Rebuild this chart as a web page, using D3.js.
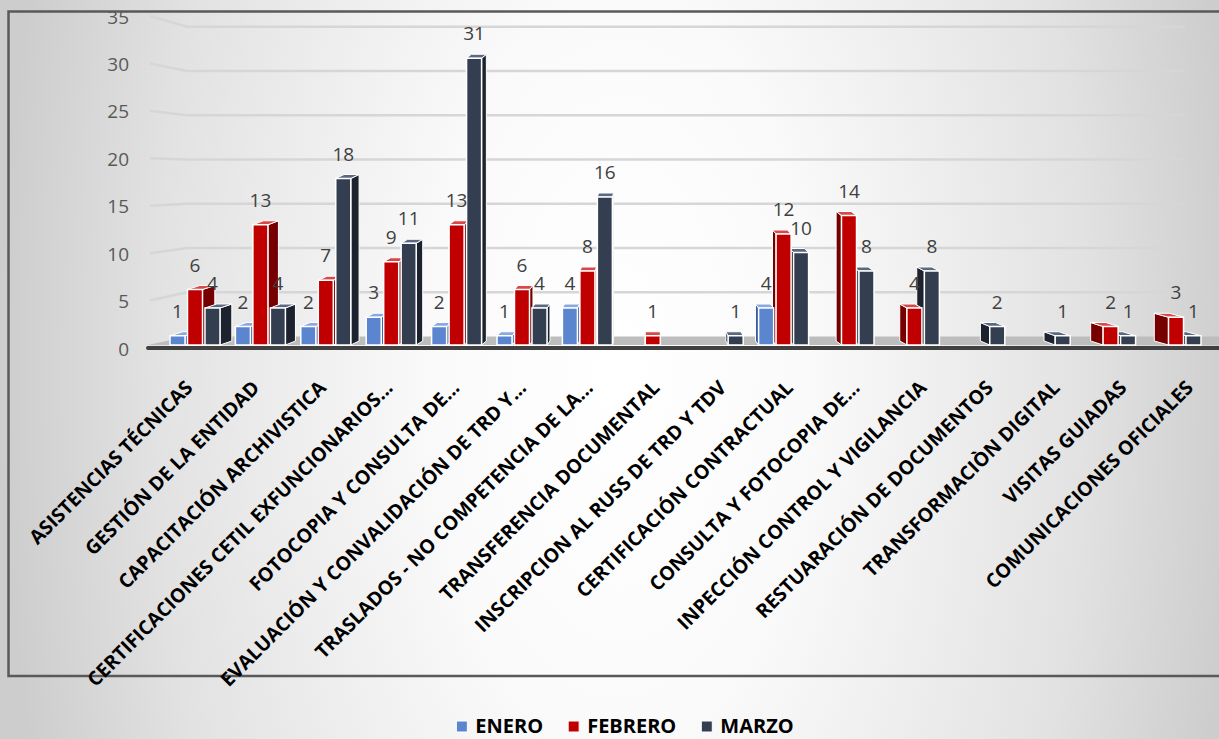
<!DOCTYPE html>
<meta charset="utf-8">
<script src="https://d3js.org/d3.v7.min.js"></script>
<style>
  body { margin: 0; }
</style>
<div id="my_dataviz"></div>
<script>

// Datos del gráfico
var categorias = [
  "ASISTENCIAS TÉCNICAS",
  "GESTIÓN DE LA ENTIDAD",
  "CAPACITACIÓN ARCHIVISTICA",
  "CERTIFICACIONES CETIL EXFUNCIONARIOS...",
  "FOTOCOPIA Y CONSULTA DE...",
  "EVALUACIÓN Y CONVALIDACIÓN DE TRD Y...",
  "TRASLADOS - NO COMPETENCIA DE LA...",
  "TRANSFERENCIA DOCUMENTAL",
  "INSCRIPCION AL RUSS DE TRD Y TDV",
  "CERTIFICACIÓN CONTRACTUAL",
  "CONSULTA Y FOTOCOPIA DE...",
  "INPECCIÓN CONTROL Y VIGILANCIA",
  "RESTUARACIÓN DE DOCUMENTOS",
  "TRANSFORMACIÒN DIGITAL",
  "VISITAS GUIADAS",
  "COMUNICACIONES OFICIALES"
];
var series = ["ENERO", "FEBRERO", "MARZO"];
var enero   = [1, 2, 2, 3, 2, 1, 4, 0, 0, 4, 0, 0, 0, 0, 0, 0];
var febrero = [6, 13, 7, 9, 13, 6, 8, 1, 0, 12, 14, 4, 0, 0, 2, 3];
var marzo   = [4, 4, 18, 11, 31, 4, 16, 0, 1, 10, 8, 8, 2, 1, 1, 1];
var yTicks = [0, 5, 10, 15, 20, 25, 30, 35];

var valores = [enero, febrero, marzo];
var colores = ["#5b86cf", "#c00000", "#333f50"];
var lados   = ["#3a5c9c", "#760000", "#1c232e"];
var techos  = ["#8aa8e2", "#d94848", "#5a6880"];

var width = 1219, height = 739;
var fuente = "'Open Sans', 'DejaVu Sans', sans-serif";

var svg = d3.select("#my_dataviz")
  .append("svg")
    .attr("width", width)
    .attr("height", height);

// Fondo degradado
var defs = svg.append("defs");
var grad = defs.append("radialGradient")
  .attr("id", "fondo")
  .attr("gradientUnits", "userSpaceOnUse")
  .attr("cx", 620).attr("cy", 370).attr("r", 620)
  .attr("gradientTransform", "translate(0,370) scale(1,2) translate(0,-370)");
grad.append("stop").attr("offset", "0").attr("stop-color", "#ffffff");
grad.append("stop").attr("offset", "0.3").attr("stop-color", "#fafafa");
grad.append("stop").attr("offset", "0.75").attr("stop-color", "#e2e2e2");
grad.append("stop").attr("offset", "1").attr("stop-color", "#cdcdcd");

svg.append("rect")
  .attr("width", width).attr("height", height)
  .attr("fill", "url(#fondo)");

// Marco
svg.append("rect")
  .attr("x", 8.5).attr("y", 11.5)
  .attr("width", 1240).attr("height", 664.5)
  .attr("fill", "none")
  .attr("stroke", "#595959")
  .attr("stroke-width", 2.5);

// Escalas
var x0 = d3.scaleBand().domain(categorias).range([163, 1209.4]);
var x1 = d3.scaleBand().domain(series).range([7, 57]).paddingInner(0.14);
var xLab = d3.scaleBand().domain(categorias).range([160.6, 1227.8]);
var yBar = d3.scaleLinear().domain([0, 35]).range([345, 21.25]);
var yWall = d3.scaleLinear().domain([0, 35]).range([336.5, 26.8]);
var yFront = d3.scaleLinear().domain([0, 35]).range([349, 17]);

// Líneas de cuadrícula (pared lateral + pared del fondo)
svg.append("g").selectAll("path")
  .data(yTicks.filter(function(v) { return v > 0; }))
  .enter().append("path")
    .attr("d", function(v) {
      return "M150," + (yFront(v) - 1) + "L187," + yWall(v) + "L1185," + yWall(v);
    })
    .attr("fill", "none")
    .attr("stroke", "#d6d6d6")
    .attr("stroke-width", 2.5);

// Suelo
svg.append("path")
  .attr("d", "M148," + yBar(0) + "L187," + yWall(0) + "L1219," + yWall(0) + "L1219," + yBar(0) + "Z")
  .attr("fill", "#bdbdbd");
svg.append("line")
  .attr("x1", 148).attr("x2", 1219)
  .attr("y1", yBar(0) + 3).attr("y2", yBar(0) + 3)
  .attr("stroke", "#404040")
  .attr("stroke-width", 4)
  .attr("stroke-linecap", "round");

// Eje Y
var yAxis = svg.append("g")
  .attr("transform", "translate(129,0)")
  .call(d3.axisLeft(yFront).tickValues(yTicks).tickSize(0).tickPadding(0));
yAxis.select(".domain").remove();
yAxis.selectAll("text")
  .attr("font-size", "19px")
  .attr("font-family", fuente)
  .attr("fill", "#595959");

// Barras 3D
var vp = 650, k = 0.027, prof = -4;
var barras = [];
categorias.forEach(function(c, i) {
  series.forEach(function(s, j) {
    var v = valores[j][i];
    if (v > 0) {
      var x = x0(c) + x1(s), w = x1.bandwidth();
      barras.push({ c: c, s: j, v: v, x: x, w: w, dx: (vp - (x + w / 2)) * k });
    }
  });
});
barras.sort(function(a, b) {
  return Math.abs(b.x + b.w / 2 - vp) - Math.abs(a.x + a.w / 2 - vp);
});

var g = svg.append("g").selectAll("g")
  .data(barras)
  .enter().append("g");

g.append("path")
  .attr("d", function(d) {
    var yb = yBar(0), yt = yBar(d.v);
    var xe = d.dx > 0 ? d.x + d.w : d.x;
    return "M" + xe + "," + yb + "L" + xe + "," + yt +
      "L" + (xe + d.dx) + "," + (yt + prof) + "L" + (xe + d.dx) + "," + (yb + prof) + "Z";
  })
  .attr("fill", function(d) { return lados[d.s]; })
  .attr("stroke", "#ffffff")
  .attr("stroke-width", 1)
  .attr("stroke-linejoin", "round");

g.append("path")
  .attr("d", function(d) {
    var yt = yBar(d.v);
    return "M" + d.x + "," + yt + "L" + (d.x + d.w) + "," + yt +
      "L" + (d.x + d.w + d.dx) + "," + (yt + prof) + "L" + (d.x + d.dx) + "," + (yt + prof) + "Z";
  })
  .attr("fill", function(d) { return techos[d.s]; })
  .attr("stroke", "#ffffff")
  .attr("stroke-width", 1)
  .attr("stroke-linejoin", "round");

g.append("rect")
  .attr("x", function(d) { return d.x; })
  .attr("y", function(d) { return yBar(d.v); })
  .attr("width", function(d) { return d.w; })
  .attr("height", function(d) { return yBar(0) - yBar(d.v); })
  .attr("fill", function(d) { return colores[d.s]; })
  .attr("stroke", "#ffffff")
  .attr("stroke-width", 1.5);

// Etiquetas de datos
svg.append("g").selectAll("text")
  .data(barras)
  .enter().append("text")
    .attr("x", function(d) { return d.x + d.w / 2; })
    .attr("y", function(d) { return yBar(d.v) - 18; })
    .attr("text-anchor", "middle")
    .attr("font-family", fuente)
    .attr("font-size", "19px")
    .attr("fill", "#404040")
    .text(function(d) { return d.v; });

// Etiquetas de categorías
svg.append("g").selectAll("text")
  .data(categorias)
  .enter().append("text")
    .attr("transform", function(c) {
      return "translate(" + (xLab(c) + xLab.bandwidth() / 2) + ",389) rotate(-45)";
    })
    .attr("text-anchor", "end")
    .attr("font-family", fuente)
    .attr("font-size", "19.5px")
    .attr("font-weight", "bold")
    .attr("fill", "#000000")
    .text(function(c) { return c; });

// Leyenda
var leyenda = svg.append("g");
var items = leyenda.selectAll("g")
  .data(series)
  .enter().append("g");
items.append("rect")
  .attr("width", 11).attr("height", 11)
  .attr("y", 721)
  .attr("fill", function(d, i) { return colores[i]; })
  .attr("stroke", "#ffffff")
  .attr("stroke-width", 1);
items.append("text")
  .attr("x", 19)
  .attr("y", 733)
  .attr("font-family", fuente)
  .attr("font-size", "20px")
  .attr("font-weight", "bold")
  .attr("fill", "#000000")
  .text(function(d) { return d; });

var anchos = [];
items.each(function() { anchos.push(19 + d3.select(this).select("text").node().getComputedTextLength()); });
var total = d3.sum(anchos) + 25 * (anchos.length - 1);
var pos = 625 - total / 2;
items.each(function(d, i) {
  d3.select(this).attr("transform", "translate(" + pos + ",0)");
  pos += anchos[i] + 25;
});

</script>
